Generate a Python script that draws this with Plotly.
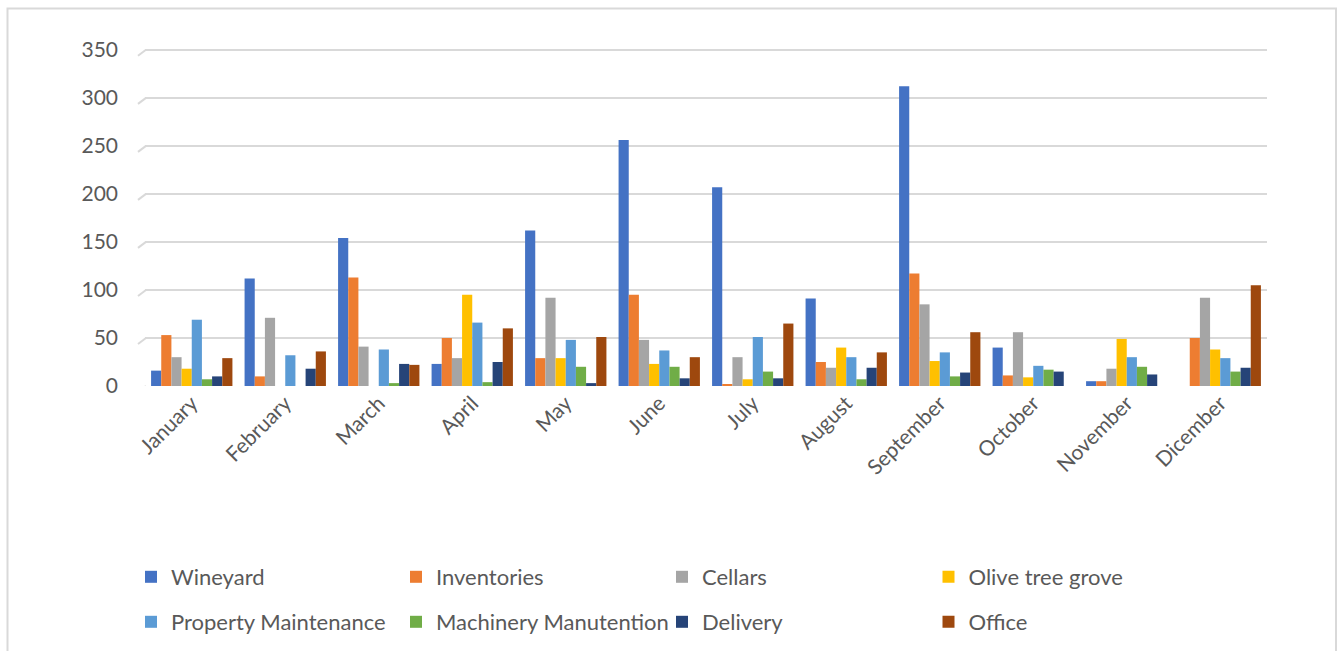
import plotly.graph_objects as go

months = ["January", "February", "March", "April", "May", "June", "July",
          "August", "September", "October", "November", "Dicember"]

wineyard = [16, 112, 154, 23, 162, 256, 207, 91, 312, 40, 5, 0]
inventories = [53, 10, 113, 50, 29, 95, 2, 25, 117, 11, 5, 50]
cellars = [30, 71, 41, 29, 92, 48, 30, 19, 85, 56, 18, 92]
olive_tree_grove = [18, 0, 0, 95, 29, 23, 7, 40, 26, 9, 49, 38]
property_maintenance = [69, 32, 38, 66, 48, 37, 51, 30, 35, 21, 30, 29]
machinery_manutention = [7, 0, 3, 4, 20, 20, 15, 7, 10, 17, 20, 15]
delivery = [10, 18, 23, 25, 3, 8, 8, 19, 14, 15, 12, 19]
office = [29, 36, 22, 60, 51, 30, 65, 35, 56, 0, 0, 105]

y_ticks = [0, 50, 100, 150, 200, 250, 300, 350]

series = [
    ("Wineyard", wineyard, "#4472C4"),
    ("Inventories", inventories, "#ED7D31"),
    ("Cellars", cellars, "#A5A5A5"),
    ("Olive tree grove", olive_tree_grove, "#FFC000"),
    ("Property Maintenance", property_maintenance, "#5B9BD5"),
    ("Machinery Manutention", machinery_manutention, "#70AD47"),
    ("Delivery", delivery, "#264478"),
    ("Office", office, "#9E480E"),
]

FONT = "Lato, 'Open Sans', sans-serif"
TXT = "#595959"

W, H = 1341, 651
ML, MR, MT, MB = 145, 74, 45, 265
PW = W - ML - MR
PH = H - MT - MB
YMAX = 355


def px_x(x):
    return (x - ML) / PW


def px_y(y):
    return (H - MB - y) / PH


fig = go.Figure()

legend_text_x = [171, 436, 702, 968.5]
legend_row_y = [577, 622]

layout_legends = {}
for i, (name, vals, col) in enumerate(series):
    key = "legend" if i == 0 else f"legend{i + 1}"
    fig.add_trace(go.Bar(
        x=months, y=vals, name=name,
        marker=dict(color=col, line=dict(width=0)),
        legend=key,
    ))
    col_i = i % 4
    row_i = i // 4
    layout_legends[key] = dict(
        x=px_x(legend_text_x[col_i] - 40),
        xanchor="left",
        y=px_y(legend_row_y[row_i]),
        yanchor="middle",
        bgcolor="rgba(0,0,0,0)",
        font=dict(family=FONT, size=22, color=TXT),
        borderwidth=0,
    )

fig.update_layout(
    width=W, height=H,
    margin=dict(l=ML, r=MR, t=MT, b=MB, autoexpand=False),
    paper_bgcolor="white",
    plot_bgcolor="white",
    barmode="group",
    bargap=0.13,
    bargroupgap=0.0,
    font=dict(family=FONT, color=TXT, size=21),
    showlegend=True,
    **layout_legends,
)

fig.update_xaxes(
    tickangle=-45,
    tickfont=dict(family=FONT, size=21, color=TXT),
    showgrid=False, showline=False, zeroline=False,
    range=[-0.5, 11.5],
)
fig.update_yaxes(
    range=[0, YMAX],
    tickvals=y_ticks,
    tickfont=dict(family=FONT, size=21, color=TXT),
    showgrid=True, gridcolor="#D9D9D9", gridwidth=2,
    zeroline=False, showline=False,
    ticklabelstandoff=26,
)

# small perspective stubs at the left end of each gridline (3D side wall)
units_per_px = YMAX / PH
for v in y_ticks:
    fig.add_shape(type="line", xref="paper", yref="y",
                  x0=px_x(138), x1=px_x(146),
                  y0=v - 6 * units_per_px, y1=v,
                  line=dict(color="#D9D9D9", width=2), layer="below")

# outer chart border
fig.add_shape(type="rect", xref="paper", yref="paper",
              x0=px_x(7.5), x1=px_x(1336), y0=px_y(8.5), y1=px_y(700),
              line=dict(color="#D9D9D9", width=2), fillcolor="rgba(0,0,0,0)",
              layer="below")

fig.write_html("out.html",
               config={"displayModeBar": False},
               post_script="document.body.style.margin='0px';document.body.style.overflow='hidden';")
